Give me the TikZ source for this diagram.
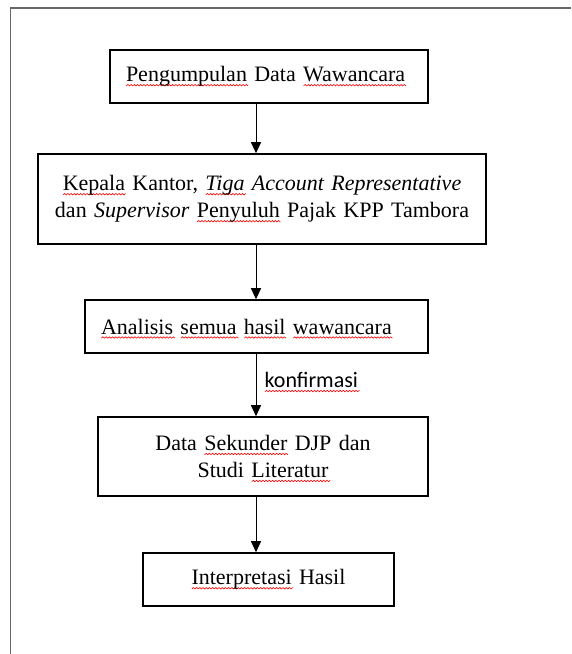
\documentclass[tikz,border=0pt]{standalone}
\usepackage{fontspec}
\setmainfont{Liberation Serif}
\newfontfamily\calibfont{Carlito}
\usepackage{tikz}
\usetikzlibrary{arrows.meta, positioning}
\newsavebox{\typobox}
\newdimen\wavex
\newcount\wavek
\newcommand{\typowave}[1]{{\color{red}\pgfpicture\pgfsetarrows{-}\pgfsetlinewidth{0.6pt}\pgfsetdash{}{0pt}%
  \pgfpathmoveto{\pgfpointorigin}\wavex=0pt \wavek=0
  \loop\ifdim\wavex<#1\relax \advance\wavex by 1.6pt \advance\wavek by 1
    \ifodd\wavek \pgfpathlineto{\pgfpoint{\wavex}{1.5pt}}\else \pgfpathlineto{\pgfpoint{\wavex}{0pt}}\fi
  \repeat
  \pgfusepath{stroke}\endpgfpicture}}
\newcommand{\typo}[1]{\sbox{\typobox}{#1}\leavevmode
  \rlap{\raisebox{-4.5pt}[0pt][0pt]{\typowave{\wd\typobox}}}\usebox{\typobox}}

\begin{document}
\begin{tikzpicture}[x=1pt,y=-1pt,on grid,>={Triangle[width=10pt,length=11pt]},
        every node/.style={font=\fontsize{22}{27}\selectfont},
        box/.style={draw,line width=1.6pt,inner xsep=16pt,inner ysep=0pt,minimum height=53pt},
        flow/.style={->,line width=1pt}]
    \useasboundingbox (0,0) rectangle (571,654);
    \draw[gray!80!black,line width=1.5pt] (571,8) -- (10.5,8) -- (10.5,654);

      \node[box,text width=286pt,align=left] (collect) at (269,76.5) {\typo{Pengumpulan} Data \typo{Wawancara}};
      \node[box,text width=416pt,align=center,minimum height=90pt] (source) [below=122.5pt of collect,xshift=-7pt]
        {\typo{Kepala} Kantor, \textit{\typo{Tiga} Account Representative}\\ dan \textit{Supervisor} \typo{Penyuluh} Pajak KPP Tambora};
      \node[box,text width=311pt,align=left] (analysis) [below=127.5pt of source,xshift=-5.5pt]
        {\typo{Analisis} \typo{semua} \typo{hasil} \typo{wawancara}};
      \node[box,text width=298pt,align=center,minimum height=79pt] (secondary) [below=130pt of analysis,xshift=6.5pt]
        {Data \typo{Sekunder} DJP dan\\ Studi \typo{Literatur}};
      \node[box,text width=219pt,align=center] (result) [below=123pt of secondary,xshift=5.5pt]
        {\typo{Interpretasi} Hasil};
      \coordinate (axis) at (256,0);

      \draw[flow] (collect.south -| axis) -- (source.north -| axis);
      \draw[flow] (source.south -| axis) -- (analysis.north -| axis);
      \draw[flow] (analysis.south -| axis) -- node[right,pos=0.42,xshift=5pt,font=\calibfont\fontsize{22}{27}\selectfont] (confirm) {\typo{konfirmasi}} (secondary.north -| axis);
      \draw[flow] (secondary.south -| axis) -- (result.north -| axis);
    \end{tikzpicture}
\end{document}
